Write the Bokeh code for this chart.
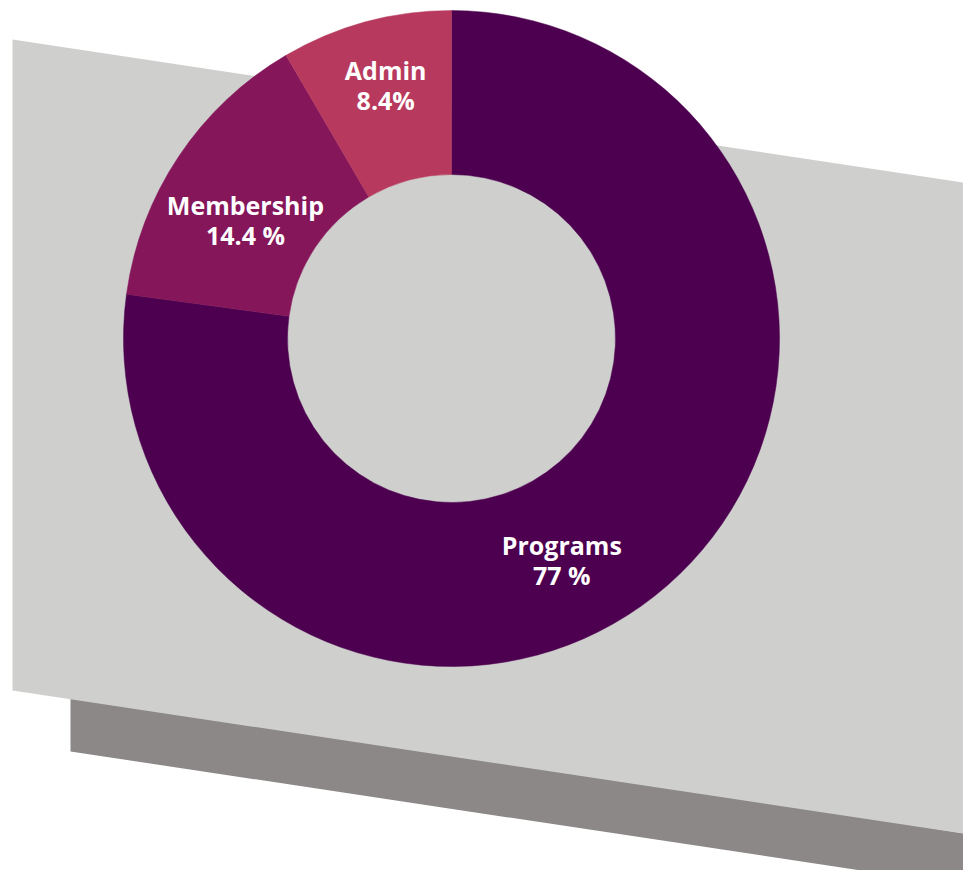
import math
from bokeh.plotting import figure
from bokeh.models import Range1d, ColumnDataSource
from bokeh.core.properties import value
from bokeh.embed import file_html
from bokeh.resources import INLINE

# ---- data ----
categories = ["Programs", "Membership", "Admin"]
shares = [77.0, 14.4, 8.4]
value_labels = ["77 %", "14.4 %", "8.4%"]
colors = ["#4c004f", "#85165a", "#b73a5e"]

# ---- layout (screen pixel coordinates of the reference) ----
H = 886
CX, CY = 451, 338
R_OUT, R_IN = 328, 164
label_ang = [-63.6, 150.4, 104.6]   # degrees, label block centres
label_rad = [248, 237, 261]
FONT = "Open Sans"
FS = 25
LIGHT = "#cfcfce"
SHADOW = "#8b8887"
SLOPE = 0.1505


def sy(y):
    return H - y


p = figure(width=963, height=870, output_backend="svg", toolbar_location=None,
           x_range=Range1d(0, 963), y_range=Range1d(H - 870, H),
           x_axis_type=None, y_axis_type=None, min_border=0,
           background_fill_color="white", border_fill_color="white")
p.grid.visible = False
p.outline_line_color = None

# background slab + shadow
xs_sh = [70, 990, 990, 70]
ys_sh = [690, 690 + SLOPE * (990 - 12), 751 + SLOPE * (990 - 70), 751]
p.patch(xs_sh, [sy(v) for v in ys_sh], fill_color=SHADOW, line_color=None)
xs_bg = [12, 990, 990, 12]
ys_bg = [39, 39 + SLOPE * (990 - 12), 690 + SLOPE * (990 - 12), 690]
p.patch(xs_bg, [sy(v) for v in ys_bg], fill_color=LIGHT, line_color=None)

# donut wedges (clockwise from 12 o'clock)
total = sum(shares)
starts, ends = [], []
acc = 0.0
for s in shares:
    a0 = math.pi / 2 - 2 * math.pi * acc / total
    acc += s
    a1 = math.pi / 2 - 2 * math.pi * acc / total
    starts.append(a0)
    ends.append(a1)

src = ColumnDataSource(dict(cat=categories, share=shares, start=starts, end=ends, color=colors))
p.annular_wedge(x=CX, y=sy(CY), inner_radius=R_IN, outer_radius=R_OUT,
                start_angle="start", end_angle="end", direction="clock",
                fill_color="color", line_color="color", line_width=0.5, source=src)

# labels
lx, ly1, ly2 = [], [], []
for a, r in zip(label_ang, label_rad):
    x = CX + r * math.cos(math.radians(a))
    y = CY - r * math.sin(math.radians(a))
    lx.append(x)
    ly1.append(sy(y - 16))
    ly2.append(sy(y + 14))

lsrc = ColumnDataSource(dict(x=lx, y1=ly1, y2=ly2, name=categories, val=value_labels))
p.text(x="x", y="y1", text="name", source=lsrc, text_font=value(FONT),
       text_font_style="bold", text_font_size=f"{FS}px", text_color="white",
       text_align="center", text_baseline="alphabetic")
p.text(x="x", y="y2", text="val", source=lsrc, text_font=value(FONT),
       text_font_style="bold", text_font_size=f"{FS}px", text_color="white",
       text_align="center", text_baseline="alphabetic")

open("out.html", "w").write(file_html(p, INLINE))
